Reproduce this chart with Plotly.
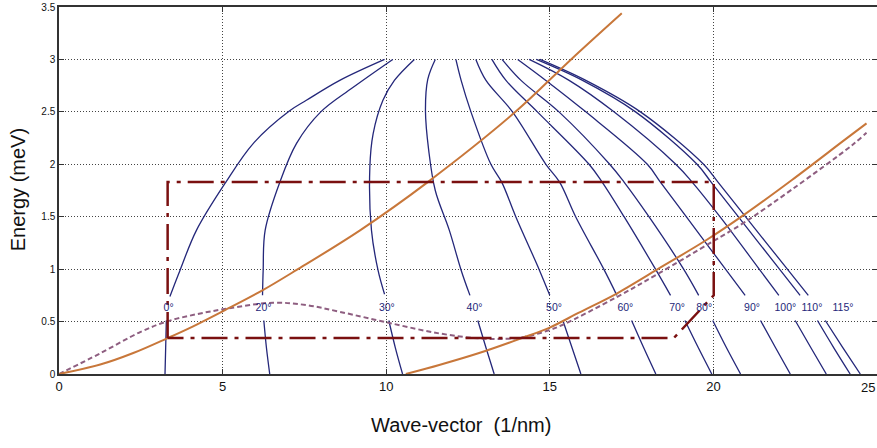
import plotly.graph_objects as go

# ---------------- data ----------------
# orange dispersion curves
orange1_x = [0, 1.26, 2.27, 3.3, 4.1, 5.17, 6.23, 7.25, 9.2, 11.27, 13.95, 15.65, 17.2]
orange1_y = [0, 0.09, 0.2, 0.34, 0.455, 0.625, 0.8, 0.99, 1.37, 1.83, 2.5, 3.0, 3.44]

orange2_x = [10.6, 11.62, 12.84, 14.15, 14.98, 15.89, 17.06, 18.3, 19.8, 20.9, 22.4, 24.0, 24.68]
orange2_y = [0, 0.086, 0.2, 0.343, 0.44, 0.585, 0.77, 1.0, 1.28, 1.51, 1.85, 2.23, 2.39]

# purple dashed curve
purple_x = [0, 1.26, 2.48, 3.29, 4.2, 5.17, 6.54, 7.56, 8.58, 10.05, 11.62, 12.84, 13.6,
            14.17, 15.0, 15.4, 17.06, 18.33, 19.96, 20.97, 22.4, 24.23, 24.68]
purple_y = [0, 0.197, 0.40, 0.5, 0.57, 0.625, 0.68, 0.657, 0.593, 0.49, 0.387, 0.34, 0.335,
            0.35, 0.42, 0.47, 0.736, 0.96, 1.26, 1.45, 1.76, 2.18, 2.30]

# dash-dot region outline
region_x = [3.32, 3.32, 20.01, 20.01, 18.79, 3.32]
region_y = [0.343, 1.83, 1.83, 0.75, 0.343, 0.343]

# angle contour lines (upper part above labels, lower part below labels)
angle_labels = ["0°", "20°", "30°", "40°", "50°", "60°", "70°", "80°", "90°", "100°", "110°", "115°"]
label_x = [3.35, 6.25, 10.02, 12.7, 15.13, 17.31, 18.89, 19.72, 21.18, 22.2, 23.01, 23.96]
label_y = [0.625] * 12

upper_x = [
    [9.95, 8.58, 7.56, 7.05, 5.94, 5.1, 4.2, 3.7, 3.39],
    [10.2, 8.97, 8.0, 7.26, 6.75, 6.3, 6.24, 6.22],
    [10.86, 10.25, 9.9, 9.6, 9.5, 9.55, 9.75, 9.95],
    [11.5, 11.27, 11.2, 11.3, 11.5, 11.93, 12.29, 12.56],
    [12.13, 12.29, 12.59, 13.2, 13.53, 13.96, 14.67, 15.0],
    [12.74, 13.05, 13.86, 14.88, 15.3, 15.79, 16.65, 17.05],
    [13.23, 13.66, 14.62, 16.2, 16.6, 17.27, 18.23, 18.69],
    [13.54, 14.12, 15.28, 16.83, 17.27, 18.03, 19.09, 19.55],
    [14.02, 14.88, 16.1, 17.98, 18.38, 19.17, 20.37, 20.97],
    [14.37, 15.59, 16.96, 18.85, 19.35, 20.2, 21.4, 22.0],
    [14.59, 16.0, 17.62, 19.5, 19.93, 20.76, 22.02, 22.65],
    [14.7, 16.1, 17.77, 19.7, 20.14, 20.98, 22.26, 22.9],
]
upper_y = [
    [3.0, 2.8, 2.61, 2.51, 2.2, 1.83, 1.37, 0.99, 0.74],
    [3.0, 2.73, 2.5, 2.2, 1.83, 1.37, 0.99, 0.75],
    [3.0, 2.8, 2.61, 2.29, 1.97, 1.37, 0.99, 0.76],
    [3.0, 2.81, 2.51, 2.13, 1.75, 1.37, 0.99, 0.75],
] + [[3.0, 2.8, 2.5, 2.0, 1.83, 1.5, 1.0, 0.75] for _ in range(8)]

lower_x = [
    [3.28, 3.26, 3.24],
    [6.26, 6.34, 6.44],
    [10.08, 10.28, 10.5],
    [12.8, 13.05, 13.3],
    [15.4, 15.68, 15.95],
    [17.5, 17.87, 18.24],
    [19.13, 19.54, 19.95],
    [19.98, 20.4, 20.83],
    [21.44, 21.9, 22.35],
    [22.5, 22.98, 23.45],
    [23.18, 23.68, 24.18],
    [23.42, 23.96, 24.49],
]
lower_y = [[0.51, 0.25, 0.0] for _ in range(12)]

x_ticks = [0, 5, 10, 15, 20, 25]
x_tick_text = ["0", "5", "10", "15", "20", ""]   # last label drawn right-aligned below so it is not cut
x_last_label = "25"
y_ticks = [0, 0.5, 1, 1.5, 2, 2.5, 3, 3.5]
y_tick_text = ["0", "0.5", "1", "1.5", "2", "2.5", "3", "3.5"]

# ---------------- styles ----------------
BLUE = "#24277A"
ORANGE = "#C8773A"
PURPLE = "#8E5E80"
DARKRED = "#7A1010"
TICKFONT_X = dict(family="Liberation Sans, Arial", size=13, color="#111111")

fig = go.Figure()

for ux, uy, lx, ly in zip(upper_x, upper_y, lower_x, lower_y):
    fig.add_trace(go.Scatter(x=ux, y=uy, mode="lines", line=dict(color=BLUE, width=1.3, shape="spline"),
                             hoverinfo="skip", showlegend=False))
    fig.add_trace(go.Scatter(x=lx, y=ly, mode="lines", line=dict(color=BLUE, width=1.3, shape="spline"),
                             hoverinfo="skip", showlegend=False))

fig.add_trace(go.Scatter(x=purple_x, y=purple_y, mode="lines",
                         line=dict(color=PURPLE, width=2, dash="5px,3px", shape="spline"),
                         showlegend=False))
fig.add_trace(go.Scatter(x=orange1_x, y=orange1_y, mode="lines",
                         line=dict(color=ORANGE, width=2, shape="spline"), showlegend=False))
fig.add_trace(go.Scatter(x=orange2_x, y=orange2_y, mode="lines",
                         line=dict(color=ORANGE, width=2, shape="spline"), showlegend=False))
fig.add_trace(go.Scatter(x=region_x, y=region_y, mode="lines",
                         line=dict(color=DARKRED, width=2.5, dash="26px,7px,4px,7px"),
                         showlegend=False))

fig.add_trace(go.Scatter(x=label_x, y=label_y, mode="text", text=angle_labels,
                         textposition="middle center",
                         textfont=dict(family="Liberation Sans Narrow, Arial Narrow, Liberation Sans",
                                       size=10.5, color=BLUE),
                         showlegend=False))

axis_common = dict(showline=True, linecolor="#333333", linewidth=1.5, mirror="allticks",
                   ticks="inside", ticklen=5, tickcolor="#333333",
                   showgrid=True, gridcolor="#444444", gridwidth=1, griddash="1px,2px",
                   zeroline=False, automargin=False, ticklabeloverflow="allow")

fig.update_xaxes(range=[0, 25], tickvals=x_ticks, ticktext=x_tick_text,
                 tickfont=TICKFONT_X, **axis_common)
fig.update_yaxes(range=[0, 3.5], tickvals=y_ticks, ticktext=y_tick_text,
                 tickfont=dict(family="Liberation Sans, Arial", size=10, color="#111111"),
                 **axis_common)

fig.add_annotation(text=x_last_label, xref="x", yref="paper", x=x_ticks[-1], y=-0.036,
                   showarrow=False, xanchor="right", yanchor="middle", font=TICKFONT_X)
fig.add_annotation(text="Wave-vector  (1/nm)", xref="paper", yref="paper", x=0.4914, y=-0.139,
                   showarrow=False, xanchor="center", yanchor="middle",
                   font=dict(family="Liberation Sans, Arial", size=20, color="#111111"))
fig.add_annotation(text="Energy (meV)", xref="paper", yref="paper", x=-0.0501, y=0.5007,
                   showarrow=False, xanchor="center", yanchor="middle", textangle=-90,
                   font=dict(family="Liberation Sans, Arial", size=20, color="#111111"))

fig.update_layout(width=877, height=448, margin=dict(l=59, r=0, t=7, b=74),
                  plot_bgcolor="white", paper_bgcolor="white")

# remove the page's default body margin so the figure sits at the window origin
fig.write_html("out.html", config={"displayModeBar": False},
               post_script="document.body.style.margin='0';document.body.style.overflow='hidden';")
